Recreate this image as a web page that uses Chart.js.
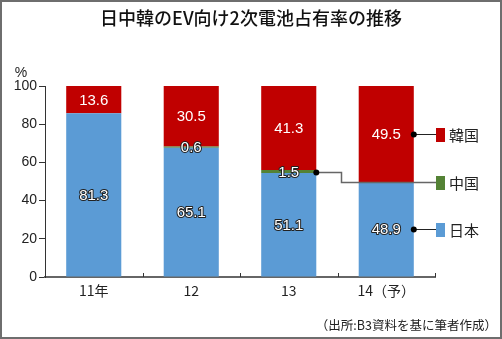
<!DOCTYPE html>
<html><head><meta charset="utf-8">
<script src="https://cdn.jsdelivr.net/npm/chart.js@4.4.0/dist/chart.umd.min.js"></script>
<style>html,body{margin:0;padding:0;background:#fff}#wrap{width:502px;height:339px;position:relative}</style>
</head><body><div id="wrap"><canvas id="c" width="502" height="339"></canvas></div>
<script>
const categories = ['11年', '12', '13', '14（予）'];
const japan = [81.3, 65.1, 51.1, 48.9];
const china = [null, 0.6, 1.5, null];
const korea = [13.6, 30.5, 41.3, 49.5];
const yTicks = [0, 20, 40, 60, 80, 100];
const seriesNames = ['日本', '中国', '韓国'];
const titleText = '日中韓のEV向け2次電池占有率の推移';
const sourceText = '（出所:B3資料を基に筆者作成）';
const unitText = '%';

const colors = ['#5B9BD5', '#548235', '#C00000'];
const FONT = '"Liberation Sans", "Noto Sans CJK JP", sans-serif';
const JFONT = '"Noto Sans CJK JP", "Liberation Sans", sans-serif';

const raw = [japan, china, korea];
const totals = categories.map((_, i) => raw.reduce((s, a) => s + (a[i] || 0), 0));
const shares = raw.map(a => a.map((v, i) => v == null ? null : v / totals[i] * 100));

const decor = {
  id: 'decor',
  afterDatasetsDraw(chart) {
    const ctx = chart.ctx;
    ctx.save();
    ctx.font = '15px ' + FONT;
    ctx.textAlign = 'center';
    ctx.textBaseline = 'middle';
    ctx.lineJoin = 'round';
    raw.forEach((arr, di) => {
      const meta = chart.getDatasetMeta(di);
      arr.forEach((v, j) => {
        if (v == null) return;
        const el = meta.data[j];
        const cx = el.x, cy = (el.y + el.base) / 2 + 1;
        const t = v.toFixed(1);
        if (di !== 2) {
          ctx.strokeStyle = '#222';
          ctx.lineWidth = 2;
          ctx.strokeText(t, cx, cy);
        }
        ctx.fillStyle = '#fff';
        ctx.fillText(t, cx, cy);
      });
    });
    ctx.restore();
  },
  afterDraw(chart) {
    const ctx = chart.ctx;
    const xs = chart.scales.x;
    const area = chart.chartArea;
    ctx.save();
    // border
    ctx.strokeStyle = '#6e6e6e';
    ctx.lineWidth = 2;
    ctx.strokeRect(1, 1, 500, 337);
    // title
    ctx.fillStyle = '#111';
    ctx.font = '500 18px ' + JFONT;
    ctx.textAlign = 'center';
    ctx.textBaseline = 'middle';
    ctx.fillText(titleText, 251, 18);
    // unit
    ctx.font = '14px ' + FONT;
    ctx.fillStyle = '#222';
    ctx.fillText(unitText, 21, 73);
    // source
    ctx.font = '12.5px ' + JFONT;
    ctx.textAlign = 'right';
    ctx.fillText(sourceText, 497, 325);
    // x inner ticks
    const n = categories.length;
    const cw = (xs.right - xs.left) / n;
    ctx.strokeStyle = '#333';
    ctx.lineWidth = 1;
    for (let i = 0; i < n; i++) {
      const bx = Math.round(xs.getPixelForValue(i) + cw / 2) + 0.5;
      ctx.beginPath();
      ctx.moveTo(bx, area.bottom - 4);
      ctx.lineTo(bx, area.bottom);
      ctx.stroke();
    }
    // leader lines & legend
    const mk = (di, j) => {
      const el = chart.getDatasetMeta(di).data[j];
      return { x: el.x + el.width / 2, y: (el.y + el.base) / 2 };
    };
    const kr = mk(2, n - 1), jp = mk(0, n - 1), cn = mk(1, 2);
    const legX = 436;
    const kY = Math.round(kr.y) + 0.5, jY = Math.round(jp.y) + 0.5;
    const cY = Math.round((kr.y + jp.y) / 2) + 0.5;
    ctx.lineWidth = 1;
    ctx.strokeStyle = '#222';
    ctx.beginPath(); ctx.moveTo(kr.x, kY); ctx.lineTo(legX, kY); ctx.stroke();
    ctx.beginPath(); ctx.moveTo(jp.x, jY); ctx.lineTo(legX, jY); ctx.stroke();
    ctx.strokeStyle = '#666';
    ctx.lineWidth = 1.5;
    const bendX = Math.round(cn.x + 25) + 0.5;
    const cnY = Math.round(cn.y) + 0.5;
    ctx.beginPath();
    ctx.moveTo(cn.x, cnY); ctx.lineTo(bendX, cnY); ctx.lineTo(bendX, cY); ctx.lineTo(legX, cY);
    ctx.stroke();
    ctx.fillStyle = '#000';
    [[kr.x, kY], [jp.x, jY], [cn.x, cnY]].forEach(([x, y]) => {
      ctx.beginPath(); ctx.arc(x, y, 3, 0, Math.PI * 2); ctx.fill();
    });
    const legend = [[2, kY], [1, cY], [0, jY]];
    legend.forEach(([di, y]) => {
      ctx.fillStyle = colors[di];
      ctx.fillRect(legX, Math.round(y - 7), 9, 14);
      ctx.fillStyle = '#222';
      ctx.font = '15px ' + JFONT;
      ctx.textAlign = 'left';
      ctx.textBaseline = 'middle';
      ctx.fillText(seriesNames[di], 449, y + 1);
    });
    ctx.restore();
  }
};

new Chart(document.getElementById('c'), {
  type: 'bar',
  data: {
    labels: categories,
    datasets: seriesNames.map((name, di) => ({
      label: name,
      data: shares[di],
      backgroundColor: colors[di],
      borderWidth: 0,
      barPercentage: 0.565,
      categoryPercentage: 1.0
    }))
  },
  options: {
    responsive: false,
    animation: false,
    devicePixelRatio: 1,
    layout: { padding: { left: 0, right: 67, top: 86, bottom: 0 } },
    plugins: { legend: { display: false }, tooltip: { enabled: false }, title: { display: false } },
    scales: {
      x: {
        stacked: true,
        grid: { display: true, drawOnChartArea: false, drawTicks: false },
        border: { display: true, color: '#666', width: 2 },
        ticks: { color: '#222', font: { size: 14, family: JFONT }, padding: 5 },
        afterFit(s) { s.height = 62; }
      },
      y: {
        stacked: true,
        min: 0, max: 100,
        afterBuildTicks(s) { s.ticks = yTicks.map(v => ({ value: v })); },
        grid: { drawOnChartArea: false, drawTicks: true, tickLength: 6, color: '#333' },
        border: { display: true, color: '#333', width: 1 },
        ticks: { color: '#222', font: { size: 14, family: FONT }, padding: 2 },
        afterFit(s) { s.width = 45; }
      }
    }
  },
  plugins: [decor]
});
</script>
</body></html>
